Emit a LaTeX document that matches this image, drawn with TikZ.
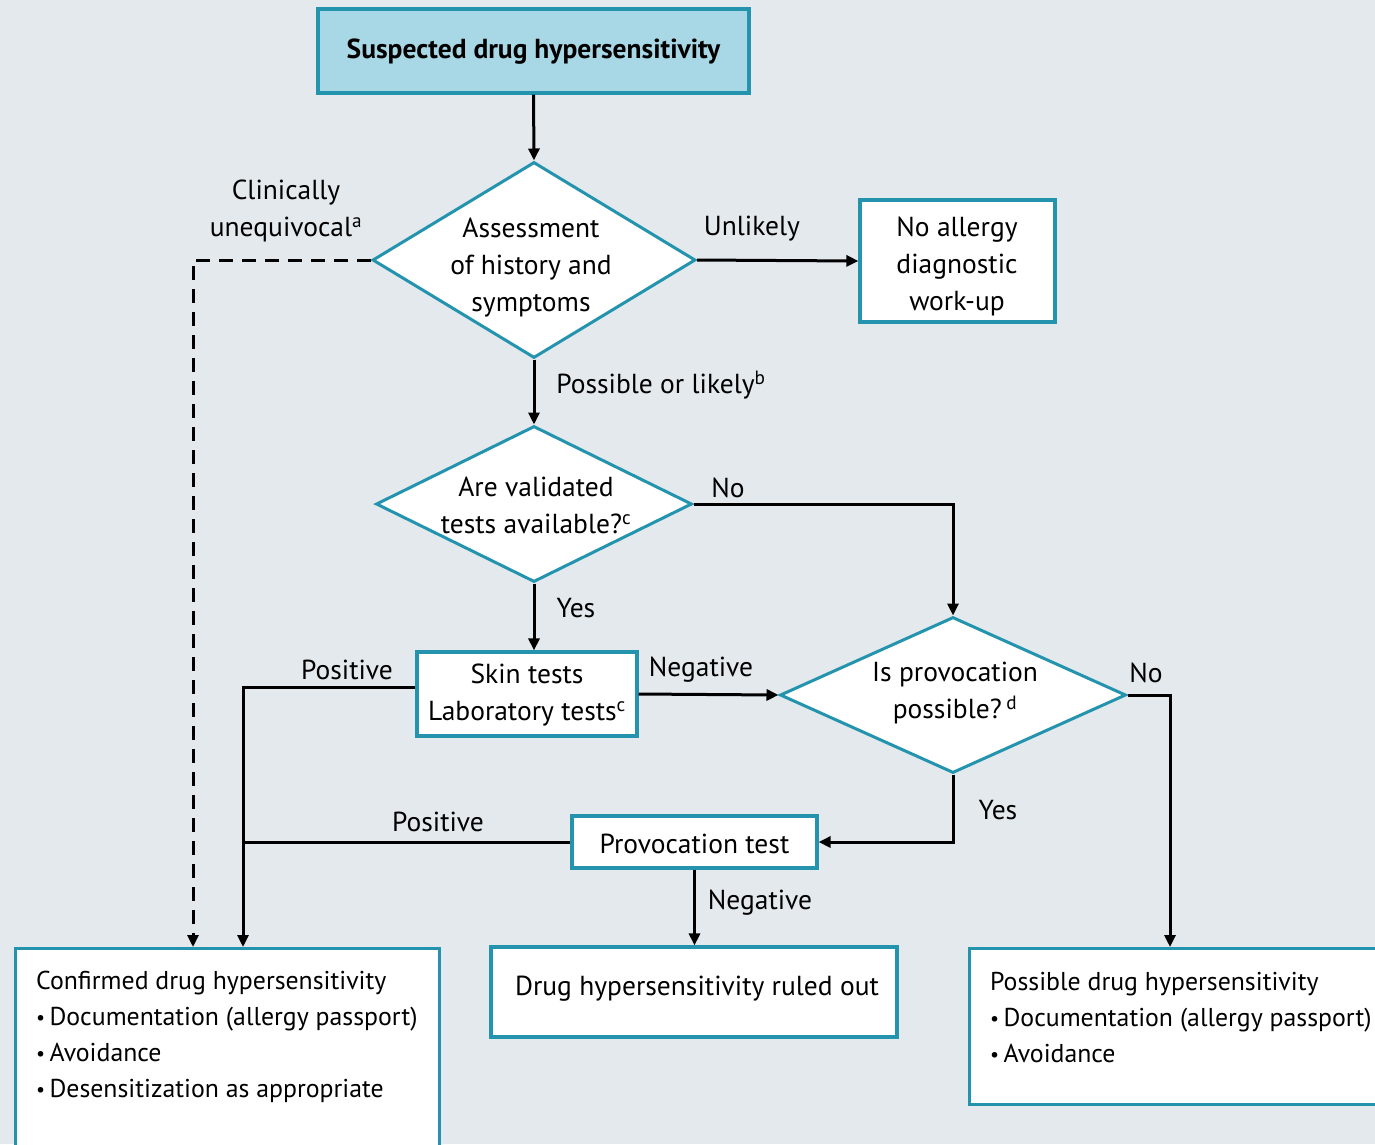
\documentclass[tikz,border=0pt]{standalone}
\usepackage{fontspec}
\setmainfont{PT Sans}
\usetikzlibrary{shapes.geometric,arrows.meta}
\definecolor{bgc}{HTML}{E4E9EE}
\definecolor{tealb}{HTML}{2494AE}
\definecolor{lightb}{HTML}{A8D8E6}
\newcommand{\bul}{{\fontsize{20}{20}\selectfont\raisebox{0.12ex}{•}}\,}
\tikzset{
  txt/.style={font=\fontsize{27.5}{37}\selectfont, align=center, inner sep=0pt},
  btxt/.style={font=\fontsize{25.8}{36}\selectfont, align=left, inner sep=0pt, anchor=north west},
  boxn/.style={draw=tealb, line width=3.2pt, fill=white, rectangle, inner sep=0pt},
  dia/.style={draw=tealb, line width=3pt, fill=white, diamond, inner sep=0pt},
  conn/.style={line width=3pt, black},
  arr/.style={conn, -{Triangle[length=12pt,width=11pt]}},
}
\begin{document}
\begin{tikzpicture}[x=1pt,y=-1pt]
\useasboundingbox (0,0) rectangle (1375,1144);
\clip (0,0) rectangle (1375,1144);
\fill[bgc] (0,0) rectangle (1375,1144);

% nodes
\node[boxn, fill=lightb, minimum width=431pt, minimum height=84pt] (top) at (533.5,51) {};
\node[txt, font=\fontsize{27.5}{37}\selectfont\bfseries] (toptxt) at (533.5,52) {Suspected drug hypersensitivity};

\node[dia, minimum width=323pt, minimum height=196pt] (d1) at (534,260) {};
\node[txt] (d1t) at (531,268) {Assessment\\of history and\\symptoms};

\node[boxn, minimum width=195pt, minimum height=122pt] (noal) at (957.5,261) {};
\node[txt] (noalt) at (957,266) {No allergy\\diagnostic\\work-up};

\node[dia, minimum width=316pt, minimum height=156pt] (d2) at (534,504) {};
\node[txt] (d2t) at (536,505) {Are validated\\tests available?\textsuperscript{c}};

\node[boxn, minimum width=220pt, minimum height=84pt] (skin) at (527,694) {};
\node[txt] (skint) at (527,695) {Skin tests\\Laboratory tests\textsuperscript{c}};

\node[dia, minimum width=346pt, minimum height=156pt] (d3) at (953,695) {};
\node[txt] (d3t) at (955,693) {Is provocation\\possible?\,\textsuperscript{d}};

\node[boxn, minimum width=245pt, minimum height=52pt] (prov) at (694.5,842) {};
\node[txt] (provt) at (694.5,844) {Provocation test};

\node[boxn, anchor=north west, minimum width=424pt, minimum height=230pt] (conf) at (14,947) {};
\node[btxt] (conft) at (36,971) {Confirmed drug hypersensitivity\\
\bul Documentation (allergy passport)\\
\bul Avoidance\\
\bul Desensitization as appropriate};

\node[boxn, minimum width=406pt, minimum height=90pt] (ruled) at (694,992) {};
\node[txt] (ruledt) at (697,989) {Drug hypersensitivity ruled out};

\node[boxn, anchor=north west, minimum width=430pt, minimum height=156pt] (poss) at (968,947) {};
\node[btxt] (posst) at (990,972) {Possible drug hypersensitivity\\
\bul Documentation (allergy passport)\\
\bul Avoidance};

\coordinate (cdash) at ([xshift=179pt]conf.north west);
\coordinate (cpos) at ([xshift=229pt]conf.north west);
\coordinate (pno) at ([xshift=202pt]poss.north west);

% connectors
\draw[arr] (top.south) -- (d1.north);
\draw[arr] (d1.east) -- (noal.west);
\draw[arr, dash pattern=on 14pt off 9pt] (d1.west) -| (cdash);
\draw[arr] (d1.south) -- (d2.north);
\draw[arr] (d2.east) -| (d3.north);
\draw[arr] (d2.south) -- (d2.south |- skin.north);
\draw[arr] (skin.east) -- (d3.west);
\draw[arr] ([yshift=7pt]skin.west) -| (cpos);
\draw[conn] (prov.west) -- (prov.west -| cpos);
\draw[arr] (d3.south) |- (prov.east);
\draw[arr] (d3.east) -| (pno);
\draw[arr] (prov.south) -- (prov.south |- ruled.north);

% labels
\node[txt] (lclin) at (286,211) {Clinically\\unequivocal\textsuperscript{a}};
\node[txt] (lunl) at (752,229) {Unlikely};
\node[txt] (lposs) at (661,385) {Possible or likely\textsuperscript{b}};
\node[txt] (lno1) at (728,488) {No};
\node[txt] (lyes1) at (576,608) {Yes};
\node[txt] (lpos1) at (347,670) {Positive};
\node[txt] (lneg1) at (701,670) {Negative};
\node[txt] (lno2) at (1146,673) {No};
\node[txt] (lyes2) at (998,810) {Yes};
\node[txt] (lpos2) at (438,822) {Positive};
\node[txt] (lneg2) at (760,903) {Negative};
\end{tikzpicture}
\end{document}
